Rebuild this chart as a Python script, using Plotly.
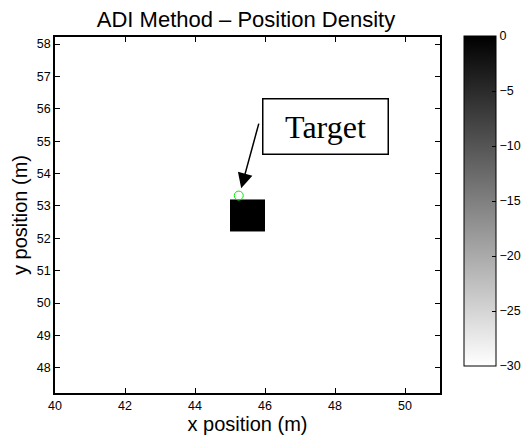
import plotly.graph_objects as go

# Position density (dB) on a 1 m grid; only the peak cell is above the floor
cell_x0 = 45.5          # centre of the peak cell, x (m)
cell_y0 = 52.7          # centre of the peak cell, y (m)
cell_size = 1.0         # grid spacing (m)
density_db = [[0.0]]

# True target location
target_x = [45.25]
target_y = [53.32]

x_ticks = [40, 42, 44, 46, 48, 50]
y_ticks = [48, 49, 50, 51, 52, 53, 54, 55, 56, 57, 58]
cbar_ticks = [0, -5, -10, -15, -20, -25, -30]

font_family = "Arial, Liberation Sans, Helvetica, sans-serif"

# plot area in pixels
W, H = 523, 444
ML, MR, MT, MB = 55, 83, 37, 51
pw = W - ML - MR
ph = H - MT - MB

fig = go.Figure()

fig.add_trace(go.Heatmap(
    z=density_db,
    x0=cell_x0, dx=cell_size,
    y0=cell_y0, dy=cell_size,
    zmin=-30, zmax=0,
    colorscale=[[0, "#ffffff"], [1, "#000000"]],
    colorbar=dict(
        x=(464 - ML) / pw, xanchor="left", xpad=0,
        y=(H - MB - 36) / ph, yanchor="top", ypad=0,
        lenmode="pixels", len=330,
        thickness=32, thicknessmode="pixels",
        tickvals=cbar_ticks,
        ticks="inside", ticklen=4, tickcolor="black",
        outlinewidth=1, outlinecolor="black",
        tickfont=dict(family=font_family, size=12.5, color="black"),
    ),
    hoverinfo="skip",
))

fig.add_trace(go.Scatter(
    x=target_x, y=target_y, mode="markers",
    marker=dict(symbol="circle-open", size=9, color="#00ee00",
                line=dict(width=1, color="#00ee00")),
    showlegend=False,
))

axis_common = dict(
    showline=True, linecolor="black", linewidth=1.5, mirror="allticks",
    ticks="inside", ticklen=5, tickcolor="black",
    showgrid=False, zeroline=False,
    tickfont=dict(family=font_family, size=12.5, color="black"),
)

fig.update_layout(
    width=W, height=H,
    margin=dict(l=ML, r=MR, t=MT, b=MB, autoexpand=False),
    paper_bgcolor="white", plot_bgcolor="white",
    title=dict(text="ADI Method – Position Density", x=246 / W, xanchor="center",
               y=1 - 19 / H, yanchor="middle",
               font=dict(family=font_family, size=22, color="black")),
    xaxis=dict(range=[40, 51], tickvals=x_ticks,
               title=dict(text="x position (m)", standoff=4,
                          font=dict(family=font_family, size=20, color="black")),
               **axis_common),
    yaxis=dict(range=[47.22, 58.22], tickvals=y_ticks,
               title=dict(text="y position (m)", standoff=4,
                          font=dict(family=font_family, size=20, color="black")),
               **axis_common),
    showlegend=False,
    annotations=[
        # label box
        dict(x=(325 - ML) / pw, y=(H - MB - 126) / ph, xref="paper", yref="paper",
             text="Target", showarrow=False, xanchor="center", yanchor="middle",
             font=dict(family="Times New Roman, Liberation Serif, serif",
                       size=32, color="black"),
             bordercolor="black", borderwidth=1.5, bgcolor="white",
             width=122, height=52),
        # pointer to the target
        dict(x=45.32, y=53.55, xref="x", yref="y", text="",
             showarrow=True, ax=18, ay=-66, axref="pixel", ayref="pixel",
             arrowhead=2, arrowsize=2, arrowwidth=1.5, arrowcolor="black"),
    ],
)

fig.write_html("out.html")
